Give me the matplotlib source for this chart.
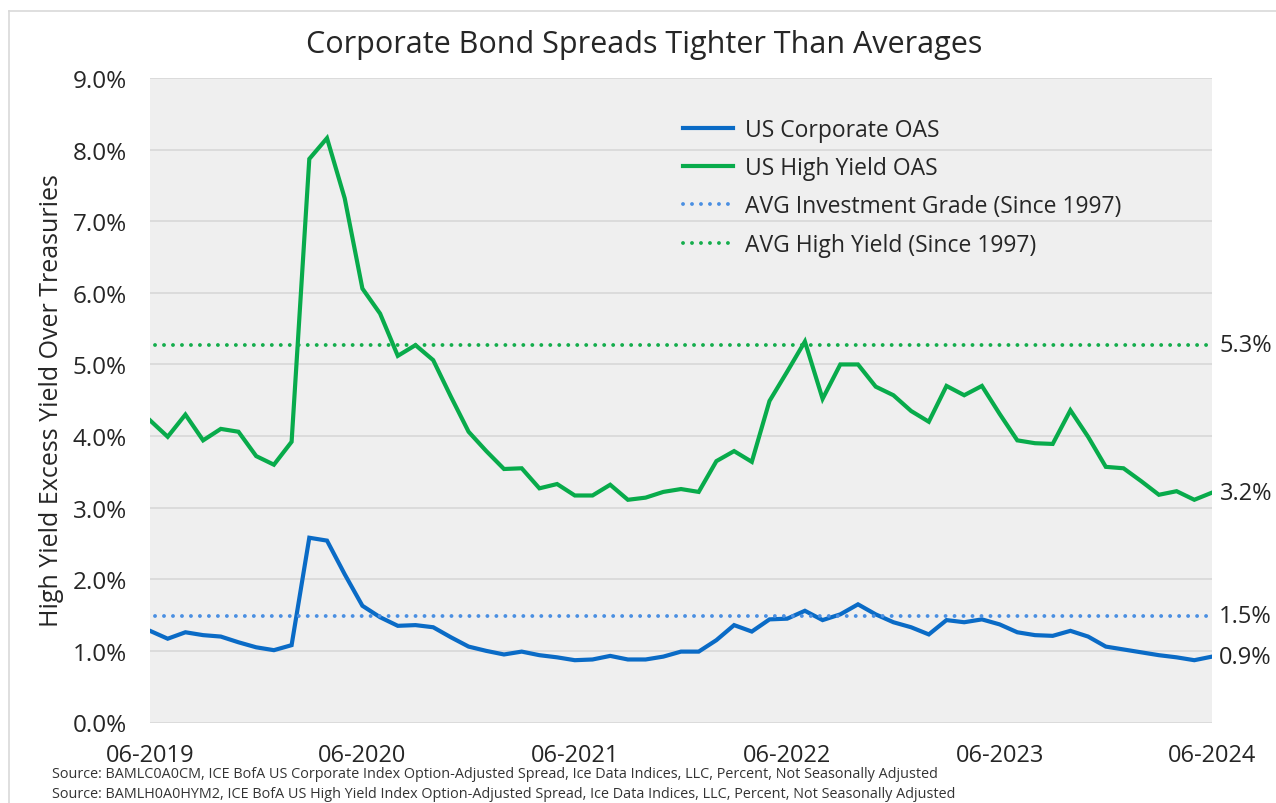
import matplotlib.pyplot as plt
from matplotlib.lines import Line2D
import numpy as np

plt.rcParams['font.family'] = ['Open Sans', 'DejaVu Sans']

# monthly values, 06-2019 .. 06-2024 (percent)
high_yield = [4.22, 3.99, 4.30, 3.94, 4.10, 4.06, 3.72, 3.60, 3.92, 7.87,
              8.16, 7.32, 6.06, 5.71, 5.12, 5.27, 5.06, 4.55, 4.06, 3.79,
              3.54, 3.55, 3.27, 3.33, 3.17, 3.17, 3.32, 3.11, 3.14, 3.22,
              3.26, 3.22, 3.65, 3.79, 3.64, 4.49, 4.90, 5.32, 4.52, 5.00,
              5.00, 4.69, 4.57, 4.35, 4.20, 4.70, 4.57, 4.70, 4.31, 3.94,
              3.90, 3.89, 4.36, 3.99, 3.57, 3.55, 3.37, 3.18, 3.23, 3.11,
              3.21]
corporate = [1.28, 1.17, 1.26, 1.22, 1.20, 1.12, 1.05, 1.01, 1.08, 2.58,
             2.54, 2.07, 1.63, 1.47, 1.35, 1.36, 1.33, 1.19, 1.06, 1.00,
             0.95, 0.99, 0.94, 0.91, 0.87, 0.88, 0.93, 0.88, 0.88, 0.92,
             0.99, 0.99, 1.15, 1.36, 1.27, 1.44, 1.45, 1.56, 1.43, 1.51,
             1.65, 1.51, 1.40, 1.33, 1.23, 1.43, 1.40, 1.44, 1.37, 1.26,
             1.22, 1.21, 1.28, 1.20, 1.06, 1.02, 0.98, 0.94, 0.91, 0.87,
             0.92]
avg_ig = 1.49
avg_hy = 5.27
months = np.arange(len(high_yield))
year_ticks = [0, 12, 24, 36, 48, 60]
year_labels = ['06-2019', '06-2020', '06-2021', '06-2022', '06-2023', '06-2024']
y_ticks = np.arange(0, 10, 1)

blue = '#0a6bc6'
green = '#08ab4b'
blue_dot = '#4a8fe2'
green_dot = '#14ad4c'
txt = '#262626'

fig = plt.figure(figsize=(12.76, 8.04), dpi=100)
ax = fig.add_axes([150 / 1276, 80.5 / 804, 1062 / 1276, 644.5 / 804])
ax.set_facecolor('#efefef')

dot = (0, (0.01, 2.3))
ax.plot(months, corporate, color=blue, lw=3.0, solid_joinstyle='miter')
ax.plot(months, high_yield, color=green, lw=3.0, solid_joinstyle='miter')
ax.axhline(avg_ig, color=blue_dot, lw=2.8, ls=dot, dash_capstyle='round', xmin=0.005, xmax=0.995)
ax.axhline(avg_hy, color=green_dot, lw=2.8, ls=dot, dash_capstyle='round', xmin=0.005, xmax=0.995)

ax.set_xlim(0, 60)
ax.set_ylim(0, 9)
ax.set_yticks(y_ticks)
ax.set_yticklabels(['%.1f%%' % v for v in y_ticks])
ax.set_xticks(year_ticks)
ax.set_xticklabels(year_labels)
ax.tick_params(axis='y', length=0, pad=16.5, labelsize=17.5, labelcolor=txt)
ax.tick_params(axis='x', length=0, pad=15, labelsize=17, labelcolor=txt)
ax.grid(axis='y', color='#d8d8d8', lw=1.2)
ax.set_axisbelow(True)
for s in ax.spines.values():
    s.set_visible(False)

# value labels on the right
for v, lab in [(avg_hy, '5.3%'), (high_yield[-1], '3.2%'), (avg_ig, '1.5%'), (corporate[-1], '0.9%')]:
    ax.text(1 + 60 / 1062, v, lab, transform=ax.get_yaxis_transform(),
            ha='right', va='center', fontsize=17, color=txt)

handles = [Line2D([], [], color=blue, lw=3.0),
           Line2D([], [], color=green, lw=3.0),
           Line2D([], [], color=blue_dot, lw=2.8, ls=dot, dash_capstyle='round'),
           Line2D([], [], color=green_dot, lw=2.8, ls=dot, dash_capstyle='round')]
labels = ['US Corporate OAS', 'US High Yield OAS',
          'AVG Investment Grade (Since 1997)', 'AVG High Yield (Since 1997)']
fig.legend(handles, labels, loc='upper left', bbox_to_anchor=(683 / 1276, 1 - 119 / 804),
           frameon=False, fontsize=16.5, handlelength=2.18, handletextpad=0.52,
           borderpad=0, borderaxespad=0, labelspacing=0.62, labelcolor=txt)

fig.text(644 / 1276, 1 - 45 / 804, 'Corporate Bond Spreads Tighter Than Averages',
         ha='center', va='center', fontsize=22, color=txt)
fig.text(52 / 1276, 1 - 401 / 804, 'High Yield Excess Yield Over Treasuries',
         ha='center', va='center', rotation=90, fontsize=18, color=txt)
fig.text(52 / 1276, 1 - 775 / 804,
         'Source: BAMLC0A0CM, ICE BofA US Corporate Index Option-Adjusted Spread, '
         'Ice Data Indices, LLC, Percent, Not Seasonally Adjusted',
         ha='left', va='center', fontsize=10.4, color='#333333')
fig.text(52 / 1276, 1 - 795 / 804,
         'Source: BAMLH0A0HYM2, ICE BofA US High Yield Index Option-Adjusted Spread, '
         'Ice Data Indices, LLC, Percent, Not Seasonally Adjusted',
         ha='left', va='center', fontsize=10.4, color='#333333')

# thin frame on top/left edge of the screenshot
fig.add_artist(Line2D([9 / 1276, 1], [1 - 11.5 / 804] * 2, color='#d9d9d9', lw=1.2))
fig.add_artist(Line2D([9 / 1276] * 2, [0, 1 - 11.5 / 804], color='#d9d9d9', lw=1.2))

fig.savefig('out.png', dpi=100)
